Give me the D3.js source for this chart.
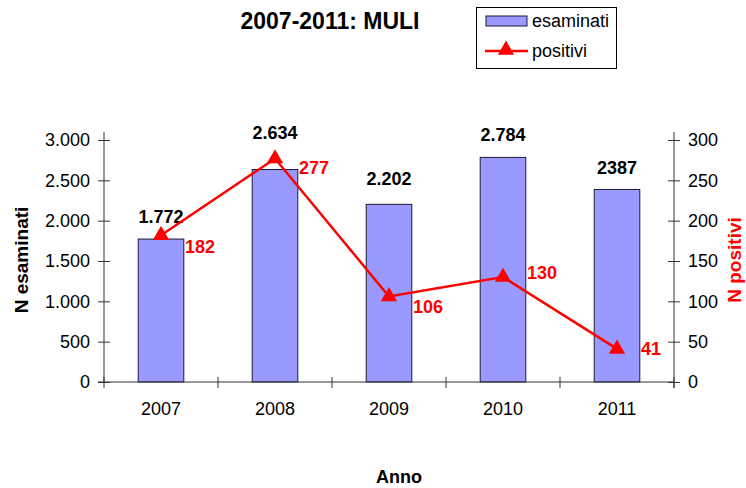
<!DOCTYPE html>
<html>
<head>
<meta charset="utf-8">
<script src="https://cdn.jsdelivr.net/npm/d3@7"></script>
<style>
  body { margin: 0; background: #fff; }
  svg { font-family: "Liberation Sans", Arial, sans-serif; }
</style>
</head>
<body>
<svg id="chart" width="746" height="488"></svg>
<script>
const years = ['2007', '2008', '2009', '2010', '2011'];
const esaminati = [1772, 2634, 2202, 2784, 2387];
const esaminatiLabels = ['1.772', '2.634', '2.202', '2.784', '2387'];
const positivi = [182, 277, 106, 130, 41];
const leftTicks = [0, 500, 1000, 1500, 2000, 2500, 3000];
const rightTicks = [0, 50, 100, 150, 200, 250, 300];

// label nudges (excel put them a bit all over the place)
const barLabelLift = [16, 31, 19, 16, 15];
const posLabelDy = [12, 9, 10, -4, 0];

const svg = d3.select('#chart');
const plotL = 104, plotR = 674, plotT = 140, plotB = 382;

const x = d3.scaleBand().domain(years).range([plotL, plotR])
  .paddingInner(0.6).paddingOuter(0.3);
const yL = d3.scaleLinear().domain([0, 3000]).range([plotB, plotT]);
const yR = d3.scaleLinear().domain([0, 300]).range([plotB, plotT]);
const fmt = d => d3.format(',')(d).replace(/,/g, '.');

// bars
svg.append('g').selectAll('rect')
  .data(esaminati)
  .enter().append('rect')
  .attr('x', (d, i) => x(years[i]))
  .attr('y', d => yL(d))
  .attr('width', x.bandwidth())
  .attr('height', d => plotB - yL(d))
  .style('fill', '#9999ff')
  .style('stroke', '#1a1a33')
  .style('stroke-width', 1);

// left axis
let gl = svg.append('g').attr('transform', `translate(${plotL},0)`)
  .call(d3.axisLeft(yL).tickValues(leftTicks).tickFormat(fmt).tickSize(6).tickPadding(8));
gl.selectAll('.tick line').attr('x1', 6);
gl.select('.domain').attr('d', `M0,${plotT - 8}V${plotB}`);

// right axis
let gr = svg.append('g').attr('transform', `translate(${plotR},0)`)
  .call(d3.axisRight(yR).tickValues(rightTicks).tickSize(6).tickPadding(8));
gr.selectAll('.tick line').attr('x1', -6);
gr.select('.domain').attr('d', `M0,${plotT - 8}V${plotB + 6}`);

// x axis, ticks between categories
let gx = svg.append('g').attr('transform', `translate(0,${plotB})`);
gx.append('line').attr('x1', plotL - 6).attr('x2', plotR).attr('stroke', '#333');
gx.selectAll('line.sep')
  .data(d3.range(years.length + 1))
  .enter().append('line')
  .attr('class', 'sep')
  .attr('x1', i => plotL + i * x.step()).attr('x2', i => plotL + i * x.step())
  .attr('y1', -5).attr('y2', 6).attr('stroke', '#333');
gx.selectAll('text')
  .data(years)
  .enter().append('text')
  .attr('x', d => x(d) + x.bandwidth() / 2)
  .attr('y', 33)
  .attr('text-anchor', 'middle')
  .style('font-size', '18px')
  .text(d => d);

svg.selectAll('.domain, .tick line').attr('stroke', '#333');
svg.selectAll('.tick text').style('font-size', '18px').attr('fill', '#000');

// bar labels
svg.append('g').selectAll('text')
  .data(esaminatiLabels)
  .enter().append('text')
  .attr('x', (d, i) => x(years[i]) + x.bandwidth() / 2)
  .attr('y', (d, i) => yL(esaminati[i]) - barLabelLift[i])
  .attr('text-anchor', 'middle')
  .style('font-size', '18px').style('font-weight', 'bold')
  .text(d => d);

// positivi line
const cx = (d, i) => x(years[i]) + x.bandwidth() / 2;
const line = d3.line().x(cx).y(d => yR(d));
svg.append('path').datum(positivi)
  .attr('d', line)
  .style('fill', 'none').style('stroke', '#ff0000').style('stroke-width', 2.5);

const tri = d3.symbol().type(d3.symbolTriangle).size(115);
svg.append('g').selectAll('path')
  .data(positivi)
  .enter().append('path')
  .attr('d', tri)
  .attr('transform', (d, i) => `translate(${cx(d, i)},${yR(d)})`)
  .style('fill', '#ff0000');

svg.append('g').selectAll('text')
  .data(positivi)
  .enter().append('text')
  .attr('x', (d, i) => cx(d, i) + 24)
  .attr('y', (d, i) => yR(d) + posLabelDy[i])
  .attr('dy', '0.35em')
  .style('font-size', '18px').style('font-weight', 'bold')
  .style('fill', '#ff0000')
  .text(d => d);

// titles
svg.append('text').attr('x', 330).attr('y', 29).attr('text-anchor', 'middle')
  .style('font-size', '23px').style('font-weight', 'bold').text('2007-2011: MULI');
svg.append('text').attr('x', 399).attr('y', 483).attr('text-anchor', 'middle')
  .style('font-size', '18px').style('font-weight', 'bold').text('Anno');
svg.append('text').attr('transform', 'translate(28,260) rotate(-90)')
  .attr('text-anchor', 'middle')
  .style('font-size', '19px').style('font-weight', 'bold').text('N esaminati');
svg.append('text').attr('transform', 'translate(741,260) rotate(-90)')
  .attr('text-anchor', 'middle')
  .style('font-size', '19px').style('font-weight', 'bold').style('fill', '#ff0000')
  .text('N positivi');

// legend
let lg = svg.append('g');
lg.append('rect').attr('x', 476.5).attr('y', 7.5).attr('width', 140).attr('height', 61)
  .style('fill', '#fff').style('stroke', '#000');
lg.append('rect').attr('x', 486).attr('y', 16).attr('width', 41).attr('height', 10)
  .style('fill', '#9999ff').style('stroke', '#1a1a33');
lg.append('text').attr('x', 532).attr('y', 27).style('font-size', '18px').text('esaminati');
lg.append('line').attr('x1', 485).attr('x2', 528).attr('y1', 51).attr('y2', 51)
  .style('stroke', '#ff0000').style('stroke-width', 2.5);
lg.append('path').attr('d', tri).attr('transform', 'translate(506,50)').style('fill', '#ff0000');
lg.append('text').attr('x', 532).attr('y', 57).style('font-size', '18px').text('positivi');
</script>
</body>
</html>
